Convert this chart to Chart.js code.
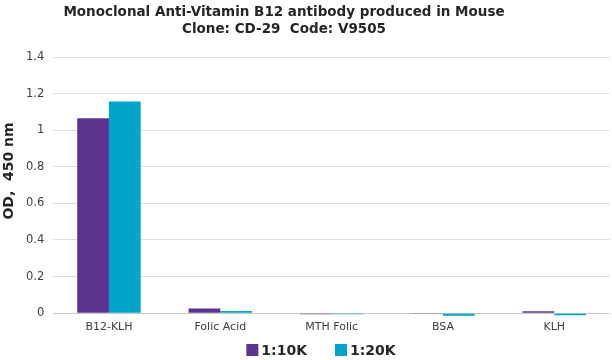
<!DOCTYPE html>
<html>
<head>
<meta charset="utf-8">
<script src="https://cdn.jsdelivr.net/npm/chart.js@4"></script>
<style>
  html, body { margin: 0; padding: 0; background: #ffffff; }
  #wrap { width: 612px; height: 360px; position: relative; }
</style>
</head>
<body>
<div id="wrap"><canvas id="c" width="612" height="360"></canvas></div>
<script>
const titleLines = ["Monoclonal Anti-Vitamin B12 antibody produced in Mouse", "Clone: CD-29  Code: V9505"];
const categories = ["B12-KLH", "Folic Acid", "MTH Folic", "BSA", "KLH"];
const seriesNames = ["1:10K", "1:20K"];
const values10K = [1.065, 0.025, -0.006, -0.005, 0.010];
const values20K = [1.157, 0.012, -0.006, -0.014, -0.012];
const yAxisTitle = "OD,  450 nm";
const yTicks = [0, 0.2, 0.4, 0.6, 0.8, 1, 1.2, 1.4];

const FONT = "'DejaVu Sans', Verdana, sans-serif";

const decorPlugin = {
  id: 'decor',
  afterDraw(chart) {
    const ctx = chart.ctx;
    ctx.save();
    // title
    ctx.fillStyle = '#262626';
    ctx.font = "bold 13.5px " + FONT;
    ctx.textAlign = 'center';
    ctx.textBaseline = 'middle';
    ctx.fillText(titleLines[0], 284, 12);
    ctx.fillText(titleLines[1], 284, 29);
    // y axis title
    ctx.save();
    ctx.translate(9, 171);
    ctx.rotate(-Math.PI / 2);
    ctx.font = "bold 14px " + FONT;
    ctx.fillText(yAxisTitle, 0, 0);
    ctx.restore();
    // legend
    ctx.font = "bold 14px " + FONT;
    ctx.textAlign = 'left';
    const box = 12, gapText = 3, gapItem = 28;
    const widths = chart.data.datasets.map(d => ctx.measureText(d.label).width);
    let total = 0;
    widths.forEach((w, i) => { total += box + gapText + w + (i < widths.length - 1 ? gapItem : 0); });
    let x = 321 - total / 2;
    const y = 350;
    chart.data.datasets.forEach((d, i) => {
      ctx.fillStyle = d.backgroundColor;
      ctx.fillRect(x, y - box / 2, box, box);
      ctx.fillStyle = '#262626';
      ctx.fillText(d.label, x + box + gapText, y + 1);
      x += box + gapText + widths[i] + gapItem;
    });
    ctx.restore();
  }
};

new Chart(document.getElementById('c'), {
  type: 'bar',
  data: {
    labels: categories,
    datasets: [
      { label: seriesNames[0], data: values10K, backgroundColor: '#5c3490', borderWidth: 0 },
      { label: seriesNames[1], data: values20K, backgroundColor: '#00a5c8', borderWidth: 0 }
    ]
  },
  options: {
    responsive: false,
    animation: false,
    devicePixelRatio: 1,
    layout: { padding: { top: 57, right: 2, left: 17, bottom: 22 } },
    datasets: { bar: { categoryPercentage: 0.57, barPercentage: 1.0 } },
    plugins: {
      title: { display: false },
      tooltip: { enabled: false },
      legend: { display: false }
    },
    scales: {
      x: {
        grid: { display: false, drawTicks: false },
        border: { display: false },
        ticks: { font: { family: FONT, size: 11 }, color: '#404040', padding: 4 }
      },
      y: {
        min: -0.02,
        max: 1.4,
        afterBuildTicks(axis) { axis.ticks = yTicks.map(v => ({ value: v })); },
        grid: {
          color: ctx => (ctx.tick && ctx.tick.value === 0) ? '#c8c8c8' : '#dedede',
          lineWidth: 1,
          drawTicks: false
        },
        border: { display: false },
        ticks: {
          font: { family: FONT, size: 11.5 },
          color: '#404040',
          padding: 9,
          callback: v => String(v)
        },
        title: { display: false, text: yAxisTitle }
      }
    }
  },
  plugins: [decorPlugin]
});
</script>
</body>
</html>
